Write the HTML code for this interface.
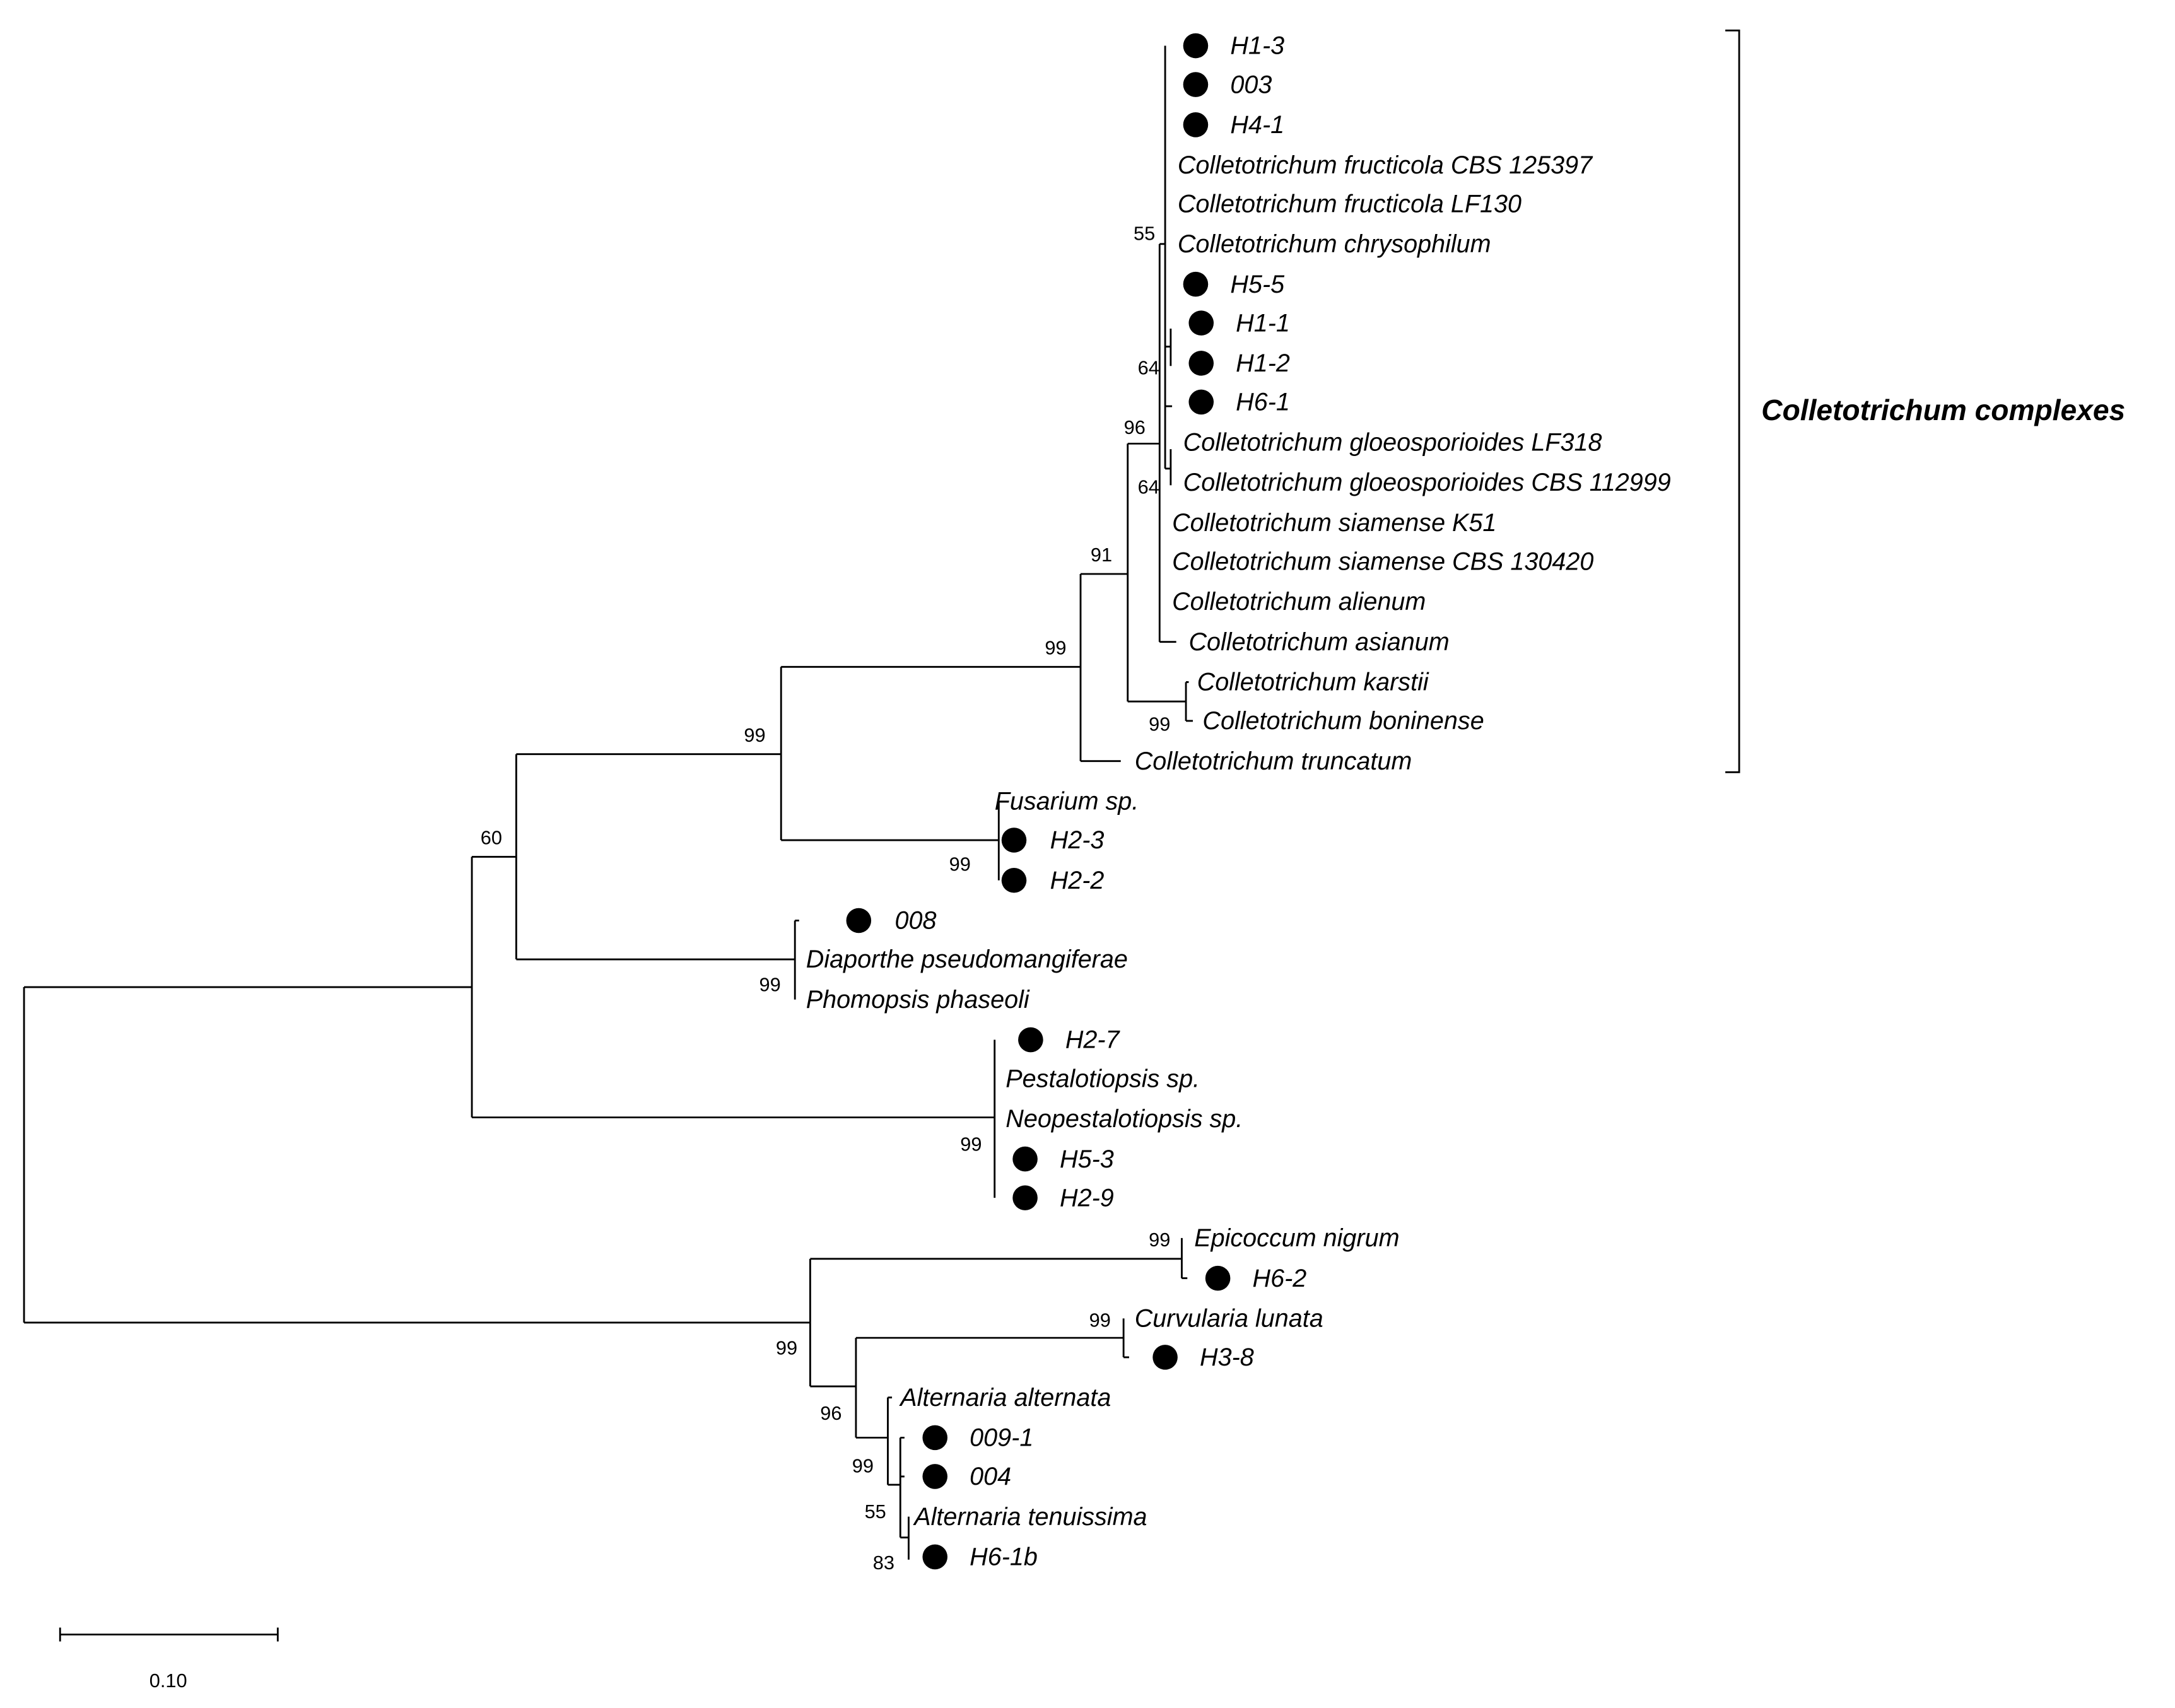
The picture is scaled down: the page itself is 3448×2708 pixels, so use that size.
<!DOCTYPE html>
<html><head><meta charset="utf-8"><style>html,body{margin:0;padding:0;background:#fff}svg{display:block}</style></head>
<body>
<svg width="3448" height="2708" viewBox="0 0 1568 1232" xmlns="http://www.w3.org/2000/svg">
<rect width="1568" height="1232" fill="#fff"/>
<g stroke="#000" stroke-width="1.3" fill="none">
<path d="M17 712V954M17 712H340M17 954H584"/>
<path d="M340 618V806M340 618H372M340 806H717"/>
<path d="M372 544V692M372 544H563M372 692H573"/>
<path d="M563 481V606M563 481H779M563 606H720"/>
<path d="M779 414V549M779 549H808M779 414H813"/>
<path d="M813 320V506M813 506H855M855 492V520M855 492H857M855 520H860"/>
<path d="M813 320H836M836 176V463M836 463H848M836 176H840"/>
<path d="M840 33V338M840 250H844M844 237V264M840 293H845M840 338H844M844 324V350"/>
<path d="M720 578V635"/>
<path d="M573 664V721M573 664H576"/>
<path d="M717 750V864"/>
<path d="M584 908V1000M584 908H852M852 893V922M852 922H856"/>
<path d="M584 1000H617M617 965V1037M617 965H810M810 951V979M810 979H814M617 1037H640"/>
<path d="M640 1008V1071M640 1008H643M640 1071H649M649 1037V1109M649 1037H652M649 1065H652M649 1109H655M655 1094V1125"/>
<path d="M1244 22H1254V557H1244"/>
<path d="M43 1179H200M43 1174V1184M200 1174V1184"/>
</g>
<g fill="#000">
<circle cx="862" cy="33" r="9"/><circle cx="862" cy="61" r="9"/><circle cx="862" cy="90" r="9"/>
<circle cx="862" cy="205" r="9"/><circle cx="866" cy="233" r="9"/><circle cx="866" cy="262" r="9"/><circle cx="866" cy="290" r="9"/>
<circle cx="731" cy="606" r="9"/><circle cx="731" cy="635" r="9"/>
<circle cx="619" cy="664" r="9"/>
<circle cx="743" cy="750" r="9"/><circle cx="739" cy="836" r="9"/><circle cx="739" cy="864" r="9"/>
<circle cx="878" cy="922" r="9"/><circle cx="840" cy="979" r="9"/>
<circle cx="674" cy="1037" r="9"/><circle cx="674" cy="1065" r="9"/><circle cx="674" cy="1123" r="9"/>
</g>
<g font-family="Liberation Sans, sans-serif" font-style="italic" font-size="18" fill="#000">
<text x="887" y="39">H1-3</text><text x="887" y="67">003</text><text x="887" y="96">H4-1</text>
<text x="849" y="125">Colletotrichum fructicola CBS 125397</text>
<text x="849" y="153">Colletotrichum fructicola LF130</text>
<text x="849" y="182">Colletotrichum chrysophilum</text>
<text x="887" y="211">H5-5</text><text x="891" y="239">H1-1</text><text x="891" y="268">H1-2</text><text x="891" y="296">H6-1</text>
<text x="853" y="325">Colletotrichum gloeosporioides LF318</text>
<text x="853" y="354">Colletotrichum gloeosporioides CBS 112999</text>
<text x="845" y="383">Colletotrichum siamense K51</text>
<text x="845" y="411">Colletotrichum siamense CBS 130420</text>
<text x="845" y="440">Colletotrichum alienum</text>
<text x="857" y="469">Colletotrichum asianum</text>
<text x="863" y="498">Colletotrichum karstii</text>
<text x="867" y="526">Colletotrichum boninense</text>
<text x="818" y="555">Colletotrichum truncatum</text>
<text x="717" y="584">Fusarium sp.</text>
<text x="757" y="612">H2-3</text><text x="757" y="641">H2-2</text>
<text x="645" y="670">008</text>
<text x="581" y="698">Diaporthe pseudomangiferae</text>
<text x="581" y="727">Phomopsis phaseoli</text>
<text x="768" y="756">H2-7</text>
<text x="725" y="784">Pestalotiopsis sp.</text>
<text x="725" y="813">Neopestalotiopsis sp.</text>
<text x="764" y="842">H5-3</text><text x="764" y="870">H2-9</text>
<text x="861" y="899">Epicoccum nigrum</text>
<text x="903" y="928">H6-2</text>
<text x="818" y="957">Curvularia lunata</text>
<text x="865" y="985">H3-8</text>
<text x="649" y="1014">Alternaria alternata</text>
<text x="699" y="1043">009-1</text><text x="699" y="1071">004</text>
<text x="659" y="1100">Alternaria tenuissima</text>
<text x="699" y="1129">H6-1b</text>
<text x="1270" y="303" font-weight="bold" font-size="21">Colletotrichum complexes</text>
</g>
<g font-family="Liberation Sans, sans-serif" font-size="14" fill="#000" text-anchor="middle">
<text x="825" y="173">55</text><text x="828" y="270">64</text><text x="818" y="313">96</text><text x="828" y="356">64</text>
<text x="794" y="405">91</text><text x="761" y="472">99</text><text x="836" y="527">99</text>
<text x="544" y="535">99</text><text x="354" y="609">60</text><text x="692" y="628">99</text>
<text x="555" y="715">99</text><text x="700" y="830">99</text>
<text x="836" y="899">99</text><text x="567" y="977">99</text><text x="793" y="957">99</text>
<text x="599" y="1024">96</text><text x="622" y="1062">99</text><text x="631" y="1095">55</text><text x="637" y="1132">83</text>
<text x="121" y="1217">0.10</text>
</g>
</svg>
</body></html>
